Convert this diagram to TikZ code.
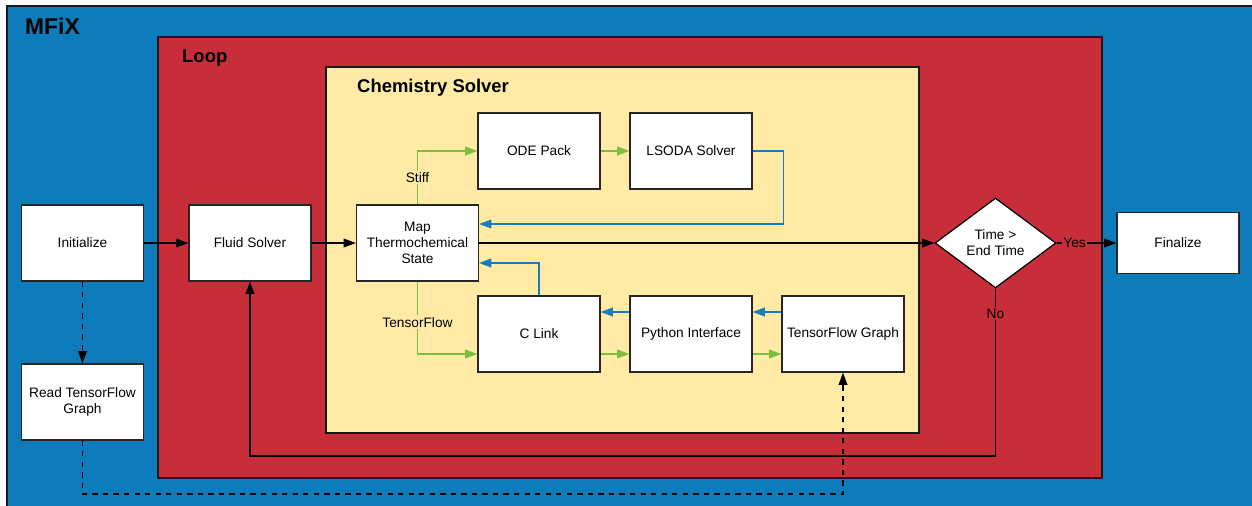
\documentclass[tikz,border=0pt]{standalone}
\usepackage{fontspec}
\setsansfont{Liberation Sans}
\usepackage{tikz}
\usetikzlibrary{arrows.meta, calc, positioning, shapes.geometric}
\usepackage{xcolor}

\definecolor{mfixblue}{RGB}{14,124,186}
\definecolor{loopred}{RGB}{200,45,58}
\definecolor{chemyellow}{RGB}{255,234,166}
\definecolor{stiffgreen}{RGB}{125,190,66}
\definecolor{linkblue}{RGB}{22,124,190}

\tikzset{
    box/.style={draw=black!85, line width=0.7pt, fill=white, align=center,
        minimum width=2.44cm, minimum height=1.52cm, inner sep=1pt},
    decision/.style={diamond, draw=black, line width=0.7pt, fill=white, align=center,
        minimum width=2.42cm, minimum height=1.8cm, inner sep=0pt},
    frame/.style={draw=black!90, line width=1pt},
    title/.style={anchor=west, font=\sffamily\bfseries\fontsize{10.5}{12}\selectfont},
    flow/.style={->, line width=0.7pt, black},
    greenflow/.style={->, line width=0.7pt, stiffgreen},
    blueflow/.style={->, line width=0.7pt, linkblue},
    branchlabel/.style={fill=chemyellow, text=black, inner sep=1pt},
}

\begin{document}
\begin{tikzpicture}[x=0.02cm, y=-0.02cm, >={Triangle[length=7pt,width=5pt]},
    font=\sffamily\fontsize{7.8}{9}\selectfont]
    \useasboundingbox (0,0) rectangle (1252,506);
    \fill[white] (0,0) rectangle (1252,506);

    % MFiX
    \draw[frame, fill=mfixblue] (7,6) rectangle (1270,520);
    \node[title, font=\sffamily\bfseries\fontsize{13}{15}\selectfont] (mfixtitle) at (19,26) {MFiX};

    % Loop
    \draw[frame, fill=loopred] (158,37) rectangle (1102,478);
    \node[title] (looptitle) at (176,58) {Loop};

    % Chemistry Solver
    \draw[frame, fill=chemyellow] (326,67) rectangle (919,433);
    \node[title] (chemtitle) at (351,88) {Chemistry Solver};

    % 节点
    \node[box] (init) at (82.5,243) {Initialize};
    \node[box] (readtf) at (82.5,402) {Read TensorFlow\\Graph};
    \node[box] (fluid) at (250,243) {Fluid Solver};
    \node[box] (map) at (417.5,243) {Map\\Thermochemical\\State};
    \node[box] (ode) at (539,151) {ODE Pack};
    \node[box] (lsoda) at (691,151) {LSODA Solver};
    \node[box] (clink) at (539,334) {C Link};
    \node[box] (python) at (691,334) {Python Interface};
    \node[box] (tfgraph) at (843,334) {TensorFlow Graph};
    \node[decision] (time) at (995.5,243) {Time >\\End Time};
    \node[box, minimum height=1.22cm] (final) at (1178,243) {Finalize};

    \coordinate (loopback) at (995.5,456);
    \coordinate (dashcorner) at (843,494);

    % 主流程
    \draw[flow] (init) -- (fluid);
    \draw[flow] (fluid) -- (map);
    \draw[flow] (map) -- (time);
    \draw[flow] (time) -- node[pos=0.3, fill=loopred, inner sep=0.5pt] {Yes} (final);
    \draw[flow] (time) -- node[pos=0.15, fill=loopred, inner sep=1pt] {No} (loopback) -| (fluid);

    % 虚线
    \draw[flow, dashed] (init) -- (readtf);
    \draw[flow, dashed] (readtf) |- (dashcorner) -- (tfgraph);

    % Stiff 分支
    \draw[greenflow] (map) |- node[pos=0.25, branchlabel] {Stiff} (ode);
    \draw[greenflow] (ode) -- (lsoda);
    \draw[blueflow] (lsoda.east) -- ++(31,0) |- ($(map.east)+(0,-19)$);

    % TensorFlow 分支
    \draw[greenflow] (map) |- node[pos=0.28, branchlabel] {TensorFlow} ($(clink.west)+(0,20)$);
    \draw[greenflow] ($(clink.east)+(0,20)$) -- ($(python.west)+(0,20)$);
    \draw[greenflow] ($(python.east)+(0,20)$) -- ($(tfgraph.west)+(0,20)$);
    \draw[blueflow] ($(tfgraph.west)+(0,-22)$) -- ($(python.east)+(0,-22)$);
    \draw[blueflow] ($(python.west)+(0,-22)$) -- ($(clink.east)+(0,-22)$);
    \draw[blueflow] (clink) |- ($(map.east)+(0,20)$);
\end{tikzpicture}
\end{document}
